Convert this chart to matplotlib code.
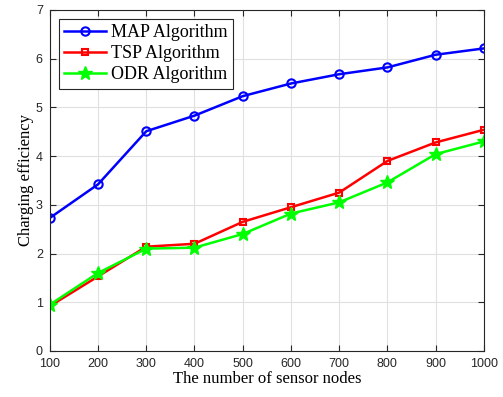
import matplotlib
matplotlib.use("Agg")
import matplotlib.pyplot as plt

nodes = [100, 200, 300, 400, 500, 600, 700, 800, 900, 1000]
map_eff = [2.73, 3.42, 4.51, 4.83, 5.23, 5.49, 5.68, 5.82, 6.08, 6.21]
tsp_eff = [0.92, 1.53, 2.14, 2.20, 2.65, 2.95, 3.25, 3.90, 4.28, 4.54]
odr_eff = [0.95, 1.60, 2.10, 2.12, 2.40, 2.82, 3.05, 3.46, 4.04, 4.30]

fig = plt.figure(figsize=(5.03, 3.97), dpi=100)
ax = fig.add_axes([0.099, 0.116, 0.863, 0.859])

ax.plot(nodes, map_eff, color="blue", lw=1.8, marker="o", ms=6, mfc="none", mew=1.5, label="MAP Algorithm")
ax.plot(nodes, tsp_eff, color="red", lw=1.8, marker="s", ms=5, mfc="none", mew=1.5, label="TSP Algorithm")
ax.plot(nodes, odr_eff, color="#00ff00", lw=1.8, marker="*", ms=10, label="ODR Algorithm")

ax.set_xlim(100, 1000)
ax.set_ylim(0, 7)
ax.set_xticks(nodes)
ax.set_yticks(range(0, 8))
ax.tick_params(direction="in", top=True, right=True, labelsize=9, length=4, colors="#262626")
ax.tick_params(axis="x", pad=5)
ax.tick_params(axis="y", pad=5)
for lab in ax.get_xticklabels() + ax.get_yticklabels():
    lab.set_family("Liberation Sans")
ax.grid(True, color="#e0e0e0", lw=0.8)
ax.set_axisbelow(True)
for s in ax.spines.values():
    s.set_color("#262626")
    s.set_linewidth(0.8)

ax.set_xlabel("The number of sensor nodes", family="Liberation Serif", fontsize=12, labelpad=1)
ax.set_ylabel("Charging efficiency", family="Liberation Serif", fontsize=12, labelpad=1)

leg = ax.legend(loc="upper left", prop={"family": "Liberation Serif", "size": 13},
                fancybox=False, edgecolor="#262626", framealpha=1,
                handlelength=2.3, handletextpad=0.3, borderpad=0.3, labelspacing=0.22,
                borderaxespad=0.5)
leg.get_frame().set_linewidth(0.8)

fig.savefig("out.png", dpi=100)
